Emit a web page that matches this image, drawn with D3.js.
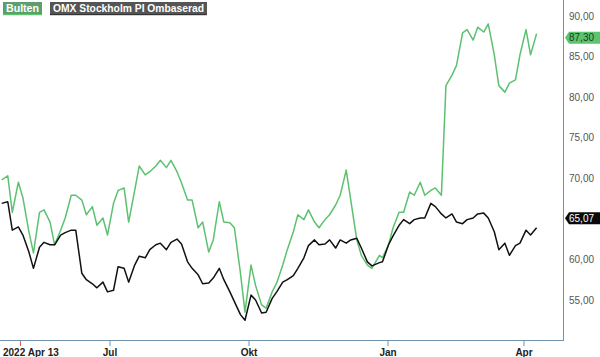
<!DOCTYPE html>
<html><head><meta charset="utf-8">
<script src="https://cdn.jsdelivr.net/npm/d3@7"></script>
<style>body{margin:0;background:#fff}svg{display:block}</style>
</head><body>
<svg id="c" width="600" height="357"></svg>
<script>
const dates = ["2022-04-21","2022-04-25","2022-04-28","2022-05-02","2022-05-05","2022-05-09","2022-05-12","2022-05-16","2022-05-19","2022-05-23","2022-05-26","2022-05-30","2022-06-02","2022-06-06","2022-06-09","2022-06-13","2022-06-16","2022-06-20","2022-06-23","2022-06-27","2022-06-30","2022-07-04","2022-07-07","2022-07-11","2022-07-14","2022-07-18","2022-07-21","2022-07-25","2022-07-28","2022-08-01","2022-08-04","2022-08-08","2022-08-11","2022-08-15","2022-08-18","2022-08-22","2022-08-25","2022-08-29","2022-09-01","2022-09-05","2022-09-08","2022-09-12","2022-09-15","2022-09-19","2022-09-22","2022-09-26","2022-09-29","2022-10-03","2022-10-06","2022-10-10","2022-10-13","2022-10-17","2022-10-20","2022-10-24","2022-10-27","2022-10-31","2022-11-03","2022-11-07","2022-11-10","2022-11-14","2022-11-17","2022-11-21","2022-11-24","2022-11-28","2022-12-01","2022-12-05","2022-12-08","2022-12-12","2022-12-15","2022-12-19","2022-12-22","2022-12-27","2022-12-29","2023-01-02","2023-01-05","2023-01-09","2023-01-12","2023-01-16","2023-01-19","2023-01-23","2023-01-26","2023-01-30","2023-02-02","2023-02-06","2023-02-09","2023-02-13","2023-02-16","2023-02-20","2023-02-23","2023-02-27","2023-03-02","2023-03-06","2023-03-09","2023-03-13","2023-03-16","2023-03-20","2023-03-23","2023-03-27","2023-03-30","2023-04-03","2023-04-06","2023-04-10"];

const bulten = [69.8,70.3,65.8,69.5,67.6,63.4,60.8,65.8,66.1,64.6,61.8,63.6,65.1,67.9,67.9,67.3,65.5,66.5,64.2,65.1,63.0,66.9,68.5,68.8,64.6,68.5,71.5,70.4,70.8,71.5,72.2,71.3,72.2,70.8,69.4,67.3,67.3,63.9,64.6,60.9,62.4,67.1,64.6,64.5,63.9,58.3,53.5,59.3,56.8,54.4,54.0,56.0,57.1,59.3,61.2,63.4,65.5,64.9,66.1,64.6,63.9,64.9,65.5,66.7,67.9,71.0,67.3,62.4,60.5,59.3,58.9,60.5,60.2,61.8,63.9,65.8,65.8,68.3,67.9,69.5,67.9,68.5,68.8,67.9,81.4,82.7,83.9,87.9,88.3,87.0,88.6,88.0,89.0,85.2,81.4,80.6,81.7,82.1,85.2,88.3,85.2,87.8,87.30];

const omx = [66.9,67.1,63.6,64.0,63.0,60.9,58.9,61.5,62.1,61.8,61.8,63.0,63.3,63.6,63.6,58.3,57.5,57.0,56.5,57.2,56.0,56.2,59.1,58.9,57.2,59.3,60.4,60.2,61.2,61.8,62.0,61.2,62.1,62.5,61.9,59.7,58.9,58.1,57.0,57.1,57.7,58.9,57.5,56.0,54.8,53.2,52.5,55.6,55.0,53.4,53.5,55.2,56.0,57.2,57.5,58.0,58.9,60.2,61.7,62.4,61.8,61.9,62.4,61.4,62.4,62.0,62.4,62.6,61.4,59.7,59.2,59.6,59.7,61.8,62.9,64.2,64.9,64.4,64.9,65.1,65.1,66.9,66.5,65.6,65.1,65.6,64.6,64.4,64.9,65.1,65.6,65.7,65.1,63.4,61.2,62.0,60.5,61.7,62.0,63.6,63.0,63.9,65.07];

const seriesNames = ["Bulten", "OMX Stockholm PI Ombaserad"];
const seriesColors = ["#5cc170", "#111111"];
const yTickValues = [55, 60, 65, 70, 75, 80, 85, 90];
const xTickDates = ["2022-07-01", "2022-10-01", "2023-01-01", "2023-04-01"];
const xTickLabels = ["Jul", "Okt", "Jan", "Apr"];
const startLabel = "2022 Apr 13";

const parse = d3.timeParse("%Y-%m-%d");
const svg = d3.select("#c");
const W = 563, H = 340;
const axisColor = "#6f93ad";
const FONT = "Arial, 'Liberation Sans', sans-serif";

const x = d3.scaleTime().domain([parse("2022-07-01"), parse("2023-04-01")]).range([109, 523]);
const y = d3.scaleLinear().domain([55, 90]).range([300, 15.8]);
const fmt = v => d3.format(".2f")(v).replace(".", ",");

const pts = dates.map(parse);
const line = d3.line().x((d, i) => x(pts[i])).y(d => y(d));

// lines
svg.append("path").datum(bulten).attr("d", line).attr("fill", "none")
  .attr("stroke", seriesColors[0]).attr("stroke-width", 1.5).attr("stroke-linejoin", "round");
svg.append("path").datum(omx).attr("d", line).attr("fill", "none")
  .attr("stroke", seriesColors[1]).attr("stroke-width", 1.5).attr("stroke-linejoin", "round");

// frame
svg.append("line").attr("x1", W + 0.5).attr("x2", W + 0.5).attr("y1", 0).attr("y2", H + 0.5)
  .attr("stroke", axisColor).attr("stroke-width", 1);
svg.append("line").attr("x1", 0).attr("x2", W + 1).attr("y1", H + 0.5).attr("y2", H + 0.5)
  .attr("stroke", axisColor).attr("stroke-width", 1);

// bottom axis
const xAxis = d3.axisBottom(x).tickValues(xTickDates.map(parse))
  .tickFormat((d, i) => xTickLabels[i]).tickSize(6).tickPadding(3);
const gx = svg.append("g").attr("transform", `translate(0.5,${H})`).call(xAxis);
gx.select(".domain").remove();
gx.selectAll(".tick line").attr("stroke", axisColor);
gx.selectAll(".tick text").attr("font-family", FONT)
  .attr("font-size", 10).attr("font-weight", "bold").attr("fill", "#222");

// start marker
svg.append("line").attr("x1", 20.5).attr("x2", 20.5).attr("y1", H + 1).attr("y2", H + 6)
  .attr("stroke", "#e8505a").attr("stroke-width", 1);
svg.append("text").attr("x", 3).attr("y", H + 15.5).text(startLabel)
  .attr("font-family", FONT).attr("font-size", 10)
  .attr("font-weight", "bold").attr("fill", "#222");

// right axis
const yAxis = d3.axisRight(y).tickValues(yTickValues).tickFormat(fmt).tickSize(0).tickPadding(6);
const gy = svg.append("g").attr("transform", `translate(${W},0)`).call(yAxis);
gy.select(".domain").remove();
gy.selectAll(".tick text").attr("font-family", FONT)
  .attr("font-size", 10).attr("fill", "#555");

// last value badges
const lastVals = [bulten[bulten.length - 1], omx[omx.length - 1]];
const badgeFill = ["#5cc46f", "#0a0a0a"];
const badgeText = ["#1f3a22", "#ffffff"];
lastVals.forEach((v, i) => {
  const yc = y(v);
  svg.append("path")
    .attr("d", `M${W + 2},${yc} L${W + 6},${yc - 6} L600,${yc - 6} L600,${yc + 6} L${W + 6},${yc + 6} Z`)
    .attr("fill", badgeFill[i]);
  svg.append("text").attr("x", W + 6).attr("y", yc).attr("dy", "0.35em").text(fmt(v))
    .attr("font-family", FONT).attr("font-size", 10)
    .attr("fill", badgeText[i]);
});

// legend
const legendBoxes = [
  {x: 3, w: 39, fill: "#5d9f6c", edge: "#5cc46f"},
  {x: 50, w: 157, fill: "#555555", edge: "#333333"}
];
seriesNames.forEach((name, i) => {
  const b = legendBoxes[i];
  svg.append("rect").attr("x", b.x).attr("y", 2).attr("width", b.w).attr("height", 13).attr("fill", b.fill);
  svg.append("rect").attr("x", b.x).attr("y", 14).attr("width", b.w).attr("height", 1.2).attr("fill", b.edge);
  const t = svg.append("text").attr("x", b.x + b.w / 2).attr("y", 12).attr("text-anchor", "middle").text(name)
    .attr("font-family", FONT).attr("font-size", 11)
    .attr("font-weight", "bold").attr("fill", "#fff");
  const tw = t.node().getComputedTextLength();
  if (tw > b.w - 6) {
    t.attr("textLength", b.w - 6).attr("lengthAdjust", "spacingAndGlyphs");
  }
});
</script>
</body></html>
